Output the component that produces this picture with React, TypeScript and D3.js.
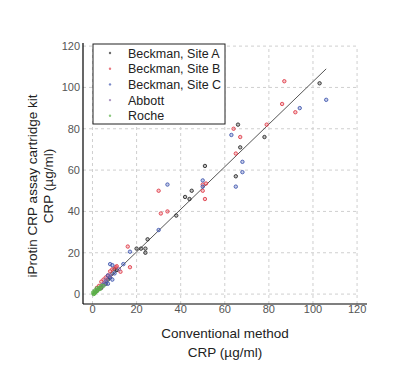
import React from "react";
import * as d3 from "d3";

const xTicks = [0, 20, 40, 60, 80, 100, 120];
const yTicks = [0, 20, 40, 60, 80, 100, 120];

const seriesNames = ["Beckman, Site A", "Beckman, Site B", "Beckman, Site C", "Abbott", "Roche"];
const seriesColors = ["#2b2b2b", "#e0404c", "#4258b0", "#8a6aa8", "#5cb04a"];

const siteA: [number, number][] = [
  [103, 102], [66, 82], [78, 76], [67, 71], [51, 62], [65, 57], [45, 50], [42, 47], [44, 46],
  [38, 38], [25, 26.5], [20, 22], [22, 22], [24, 22], [24, 20], [11, 11.6], [9, 10], [8, 8],
  [7, 7], [6, 5], [4, 3], [10, 12], [2, 1.5],
];
const siteB: [number, number][] = [
  [87, 103], [86, 92], [92, 88], [79, 82], [64, 80], [67, 76], [65, 68], [50, 53], [51.5, 53.5],
  [50, 50], [51, 46], [30, 50], [31, 39], [34, 40], [16, 23], [17, 13], [11, 13.5], [10.5, 13],
  [12.7, 10.8], [5, 7], [4, 6], [6, 8], [3, 4], [7, 9], [8, 11], [2, 3], [9, 12],
];
const siteC: [number, number][] = [
  [106, 94], [94, 90], [63, 77], [68, 64], [68, 59], [65, 52], [50, 55], [50, 52], [34, 53],
  [30, 31], [17, 20.5], [14, 14.5], [8, 14.5], [9, 14], [7, 9], [8, 8], [9, 7], [6, 6], [7, 5],
  [10, 10], [5, 4.5],
];
const abbott: [number, number][] = [
  [3, 2.5], [5, 5], [6, 7], [8, 9], [4, 3.5], [12, 12], [2, 2],
];
const roche: [number, number][] = [
  [0.5, 0], [1, 0.5], [1.5, 1], [2, 1.5], [1, 1.2], [2.5, 2], [3, 3], [0.8, 0.2], [1.2, 1.8],
  [3.5, 2.5], [4, 4], [2, 2.8], [0.3, 0.8], [5, 4],
];
const allSeries = [siteA, siteB, siteC, abbott, roche];

const fitLine: [number, number][] = [[0, -0.2], [106, 109]];

export default function App() {
  const W = 415, H = 382;
  const x = d3.scaleLinear().domain([-4.3, 124.5]).range([83, 367]);
  const y = d3.scaleLinear().domain([-4.8, 121.5]).range([304, 43]);
  const line = d3.line<[number, number]>().x(d => x(d[0])).y(d => y(d[1]));
  const font = "Arial, 'Liberation Sans', sans-serif";
  const legX = 93, legY = 44, legW = 132, legH = 80, legStep = 15.7;

  return (
    <svg width={W} height={H} style={{ position: "absolute", left: 0, top: 0, background: "#fff" }} fontFamily={font}>
      <rect width={W} height={H} fill="#fff" />
      {xTicks.map(t => (
        <line key={"gx" + t} x1={x(t)} x2={x(t)} y1={y(-4.8)} y2={y(120)} stroke="#cfcfcf" strokeWidth={1} strokeDasharray="3,3" />
      ))}
      {yTicks.map(t => (
        <line key={"gy" + t} x1={x(-4.3)} x2={x(120)} y1={y(t)} y2={y(t)} stroke="#cfcfcf" strokeWidth={1} strokeDasharray="3,3" />
      ))}
      <path d={line(fitLine) || ""} fill="none" stroke="#555" strokeWidth={1} />
      {allSeries.map((s, i) => (
        <g key={"s" + i}>
          {s.map((d, j) => (
            <circle key={j} cx={x(d[0])} cy={y(d[1])} r={1.7} fill={seriesColors[i]} fillOpacity={0.3} stroke={seriesColors[i]} strokeWidth={0.9} />
          ))}
        </g>
      ))}
      <line x1={83} x2={83} y1={43} y2={304} stroke="#000" strokeWidth={1.2} />
      <line x1={83} x2={367} y1={304} y2={304} stroke="#000" strokeWidth={1.2} />
      {xTicks.map(t => (
        <text key={"tx" + t} x={x(t)} y={313} fontSize={11} fill="#555" textAnchor="middle">{t}</text>
      ))}
      {yTicks.map(t => (
        <text key={"ty" + t} x={80} y={y(t) + 4} fontSize={11} fill="#555" textAnchor="end">{t}</text>
      ))}
      <text x={225} y={338} fontSize={13.5} fill="#222" textAnchor="middle">Conventional method</text>
      <text x={225} y={357} fontSize={13.5} fill="#222" textAnchor="middle">CRP (µg/ml)</text>
      <g transform="translate(37,186) rotate(-90)">
        <text x={0} y={0} fontSize={13.5} fill="#222" textAnchor="middle">iProtin CRP assay cartridge kit</text>
      </g>
      <g transform="translate(53,186) rotate(-90)">
        <text x={0} y={0} fontSize={13.5} fill="#222" textAnchor="middle">CRP (µg/ml)</text>
      </g>
      <rect x={legX} y={legY} width={legW} height={legH} fill="#fff" stroke="#222" strokeWidth={1} />
      {seriesNames.map((n, i) => (
        <g key={"l" + i}>
          <circle cx={110} cy={legY + 9 + i * legStep} r={1.2} fill={seriesColors[i]} fillOpacity={0.7} />
          <text x={128} y={legY + 13.5 + i * legStep} fontSize={12.5} fill="#222">{n}</text>
        </g>
      ))}
    </svg>
  );
}
